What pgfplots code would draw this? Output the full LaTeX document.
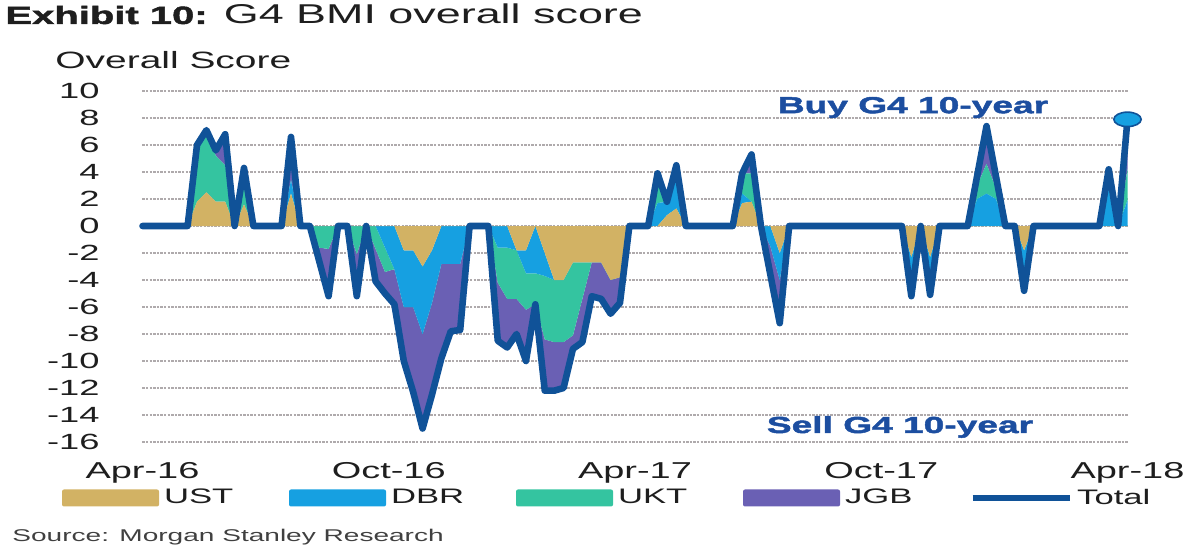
\documentclass[border=0pt]{standalone}
\usepackage{pgfplots}
\pgfplotsset{compat=1.18}
\usepackage{pgfplotstable}
\usepackage{fontspec}
\setmainfont{Liberation Sans}[FakeStretch=1.65]
\newfontfamily\heavyfont{Liberation Sans}[FakeStretch=1.6, FakeBold=2]

\definecolor{ustc}{RGB}{210,178,100}
\definecolor{dbrc}{RGB}{22,160,225}
\definecolor{uktc}{RGB}{52,196,160}
\definecolor{jgbc}{RGB}{106,96,180}
\definecolor{totc}{RGB}{16,82,152}
\definecolor{annc}{RGB}{28,78,160}
\definecolor{gridc}{RGB}{175,170,172}
\definecolor{txtc}{RGB}{30,30,30}

\pgfplotstableread{
k ust dbr ukt jgb total
-0.8 0 0 0 0 0
0 0 0 0 0 0
1 0 0 0 0 0
2 0 0 0 0 0
3 0 0 0 0 0
4 0 0 0 0 0
5 1.8 0 4.2 0 6.0
6 2.5 0 4.6 0 7.1
7 1.8 0 3.4 0.4 5.6
8 1.8 0 2.7 2.3 6.8
9 0 0 0 0 0
10 1.6 0 2.7 0 4.3
11 0 0 0 0 0
12 0 0 0 0 0
13 0 0 0 0 0
14 0 0 0 0 0
15 2.4 1.0 0 3.2 6.6
16 0 0 0 0 0
17 0 0 0 0 0
18 0 0 -1.6 -1.0 -2.6
19 0 0 -1.7 -3.5 -5.2
20 0 0 0 0 0
21 0 0 0 0 0
22 0 0 -2.1 -3.1 -5.2
23 0 0 0 0 0
24 0 0 -1.7 -2.4 -4.1
25 0 -1.6 -1.8 -1.6 -5.0
26 0 -3.2 0 -2.6 -5.8
27 -1.8 -4.2 0 -4.0 -10.0
28 -1.8 -4.2 0 -6.3 -12.3
29 -3.0 -5.0 0 -7.0 -15.0
30 -1.8 -3.9 0 -6.8 -12.5
31 0 -2.8 0 -7.0 -9.8
32 0 -2.8 0 -5.0 -7.8
33 0 -2.8 0 -4.9 -7.7
34 0 0 0 0 0
35 0 0 0 0 0
36 0 0 0 0 0
37 0 -1.6 -2.6 -4.3 -8.5
38 0 -1.6 -3.8 -3.6 -9.0
39 -1.8 0 -3.6 -2.6 -8.0
40 -1.8 -1.7 -2.7 -3.8 -10.0
41 0 -3.5 -2.3 0 -5.8
42 -2.0 -1.7 -4.7 -3.8 -12.2
43 -4.0 0 -4.6 -3.6 -12.2
44 -4.0 0 -4.6 -3.4 -12.0
45 -2.7 0 -5.4 -1.0 -9.1
46 -2.7 0 -2.7 -3.2 -8.6
47 -2.7 0 0 -2.5 -5.2
48 -2.7 0 0 -2.7 -5.4
49 -4.0 0 0 -2.5 -6.5
50 -3.8 0 0 -1.9 -5.7
51 0 0 0 0 0
52 0 0 0 0 0
53 0 0 0 0 0
54 0 1.7 2.2 0 3.9
55 0.8 1.0 0 0 1.8
56 1.3 2.5 0.7 0 4.5
57 0 0 0 0 0
58 0 0 0 0 0
59 0 0 0 0 0
60 0 0 0 0 0
61 0 0 0 0 0
62 0 0 0 0 0
63 1.7 0.7 1.5 0 3.9
64 1.8 0 2.1 1.4 5.3
65 0 0 0 0 0
66 0 -1.5 0 -2.1 -3.6
67 -2.0 -2.0 0 -3.2 -7.2
68 0 0 0 0 0
69 0 0 0 0 0
70 0 0 0 0 0
71 0 0 0 0 0
72 0 0 0 0 0
73 0 0 0 0 0
74 0 0 0 0 0
75 0 0 0 0 0
76 0 0 0 0 0
77 0 0 0 0 0
78 0 0 0 0 0
79 0 0 0 0 0
80 0 0 0 0 0
81 -2.3 -2.9 0 0 -5.2
82 0 0 0 0 0
83 -2.3 -2.8 0 0 -5.1
84 0 0 0 0 0
85 0 0 0 0 0
86 0 0 0 0 0
87 0 0 0 0 0
88 0 2.0 1.0 0.7 3.7
89 0 2.4 2.2 2.8 7.4
90 0 2.0 0.8 0.9 3.7
91 0 0 0 0 0
92 0 0 0 0 0
93 -1.8 -3.0 0 0 -4.8
94 0 0 0 0 0
95 0 0 0 0 0
96 0 0 0 0 0
97 0 0 0 0 0
98 0 0 0 0 0
99 0 0 0 0 0
100 0 0 0 0 0
101 0 0 0 0 0
102 0 2.7 1.5 0 4.2
103 0 0 0 0 0
104 0 1.9 2.3 3.7 7.9
}\bmi

\begin{document}
\begin{tikzpicture}
\useasboundingbox (-71.25pt,-52pt) rectangle (528.75pt,221pt);
\begin{axis}[
  at={(0pt,0pt)}, anchor=south west,
  scale only axis, width=492.5pt, height=175.5pt,
  xmin=-0.8, xmax=104, ymin=-16, ymax=10,
  ytick={-16,-14,...,10},
  xtick={-0.8,25.4,51.6,77.8,104},
  xticklabels={Apr-16,Oct-16,Apr-17,Oct-17,Apr-18},
  ymajorgrids,
  grid style={gridc, line width=0.7pt, dash pattern=on 1.2pt off 0.6pt},
  axis line style={draw=none}, tick style={draw=none},
  /pgf/number format/assume math mode=true,
  yticklabel style={anchor=east, inner sep=0pt, xshift=-21.25pt, text=txtc, font=\fontsize{11}{12}\selectfont},
  xticklabel style={anchor=base, inner sep=0pt, yshift=-18pt, text=txtc, font=\fontsize{11.5}{12}\selectfont},
  stack plots=y,
  legend columns=5,
  legend style={at={(-0.0817,-0.1595)}, anchor=west, draw=none, fill=none,
    inner sep=0pt, outer sep=0pt, text=txtc, font=\fontsize{10.5}{12}\selectfont,
    /tikz/every odd column/.style={column sep=2.5pt},
    /tikz/every even column/.style={column sep=2.5pt},
    nodes={inner sep=0pt}},
  legend image code/.code={\fill[#1, draw=none, rounded corners=1pt] (0pt,-4.25pt) rectangle (48.5pt,4.25pt);},
]
\addplot[fill=ustc, draw=none] table[x=k, y=ust] {\bmi} \closedcycle;
\addlegendentry{\makebox[60pt][l]{UST}}
\addplot[fill=dbrc, draw=none] table[x=k, y=dbr] {\bmi} \closedcycle;
\addlegendentry{\makebox[60pt][l]{DBR}}
\addplot[fill=uktc, draw=none] table[x=k, y=ukt] {\bmi} \closedcycle;
\addlegendentry{\makebox[60pt][l]{UKT}}
\addplot[fill=jgbc, draw=none] table[x=k, y=jgb] {\bmi} \closedcycle;
\addlegendentry{\makebox[60pt][l]{JGB}}
\addlegendimage{legend image code/.code={\draw[totc, line width=2.6pt] (0pt,0pt) -- (48.5pt,0pt);}}
\addlegendentry{\makebox[60pt][l]{Total}}
\end{axis}
\begin{axis}[
  at={(0pt,0pt)}, anchor=south west,
  scale only axis, width=492.5pt, height=175.5pt,
  xmin=-0.8, xmax=104, ymin=-16, ymax=10,
  hide axis, clip=false]
\addplot[totc, line width=3.3pt, line join=round, line cap=round, no markers] table[x=k, y=total] {\bmi};
\addplot[only marks, mark=*, mark size=3.6pt, mark options={fill=dbrc, draw=totc, line width=0.8pt, xscale=1.9}] coordinates {(104,7.9)};
\end{axis}
\node[anchor=base west, inner sep=0pt, text=txtc] at (-68.75pt,209pt) {\fontsize{12.5}{14}\heavyfont\bfseries Exhibit 10:};
\node[anchor=base west, inner sep=0pt, text=txtc] at (40.5pt,209pt) {\fontsize{13.6}{15}\selectfont G4 BMI overall score};
\node[anchor=base west, inner sep=0pt, text=txtc] at (-43.75pt,186.5pt) {\fontsize{11.8}{14}\selectfont Overall Score};
\node[inner sep=0pt, text=annc] at (385.25pt,167.25pt) {\fontsize{11.6}{13}\heavyfont\bfseries Buy G4 10-year};
\node[inner sep=0pt, text=annc] at (378.75pt,7.5pt) {\fontsize{11.6}{13}\heavyfont\bfseries Sell G4 10-year};
\node[anchor=base west, inner sep=0pt, text=txtc!85] at (-65.25pt,-50pt) {\fontsize{8.5}{10}\selectfont Source: Morgan Stanley Research};
\end{tikzpicture}
\end{document}
